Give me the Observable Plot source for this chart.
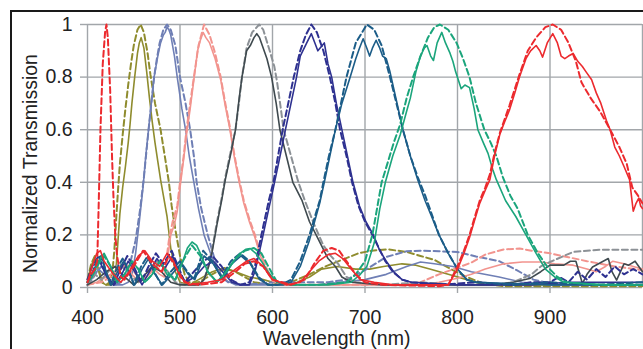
<!DOCTYPE html>
<html><head><meta charset="utf-8">
<script src="https://cdn.jsdelivr.net/npm/d3@7"></script>
<script src="https://cdn.jsdelivr.net/npm/@observablehq/plot@0.6"></script>
<style>
html,body{margin:0;padding:0;background:#fff;overflow:hidden}
#wrap{position:relative;width:643px;height:349px}
#frame{position:absolute;left:10px;top:10px;width:640px;height:345px;border-top:2px solid #1a1a1a;border-left:2px solid #1a1a1a;pointer-events:none;z-index:2}
</style></head><body><div id="wrap"></div>
<script>
// ---- tick values ----
const xTicks = [400, 500, 600, 700, 800, 900];
const xGrid = [400, 500, 600, 700, 800, 900, 1000];
const yTicks = [0, 0.2, 0.4, 0.6, 0.8, 1];

// ---- series values: [wavelength nm, normalized transmission] ----
const oliveSim = [[400,0.03],[404,0.09],[408,0.12],[412,0.07],[416,0.02],[420,0.01],[424,0.02],[427,0.06],[429,0.14],[431,0.26],[433,0.37],[435,0.47],[438,0.58],[441,0.68],[444,0.77],[447,0.85],[450,0.92],[454,0.98],[457.5,1.0],[461,0.97],[465,0.89],[468,0.81],[473,0.7],[479,0.6],[484,0.49],[488,0.4],[491,0.31],[495,0.22],[500,0.12],[505,0.05],[510,0.02],[520,0.02],[530,0.04],[540,0.06],[550,0.07],[560,0.06],[570,0.04],[580,0.02],[600,0.01],[620,0.02],[640,0.05],[657,0.08],[675,0.105],[693,0.13],[707,0.14],[725,0.145],[745,0.135],[760,0.12],[775,0.105],[795,0.066],[810,0.04],[828,0.015],[850,0.005],[900,0.005],[1000,0.005]];
const oliveMeas = [[400,0.02],[403,0.07],[407,0.11],[411,0.08],[415,0.02],[420,0.01],[426,0.01],[429,0.03],[431,0.08],[433,0.18],[435,0.28],[438,0.38],[441,0.46],[444,0.55],[446,0.62],[448,0.7],[451,0.8],[454,0.89],[456,0.93],[458,0.95],[461,0.91],[464,0.82],[467,0.72],[470,0.63],[473,0.55],[476,0.48],[479,0.41],[482,0.35],[486,0.27],[490,0.15],[495,0.06],[500,0.02],[510,0.01],[520,0.03],[535,0.06],[548,0.075],[560,0.06],[575,0.04],[590,0.03],[605,0.015],[620,0.01],[640,0.04],[653,0.07],[670,0.08],[690,0.07],[705,0.07],[720,0.08],[740,0.09],[755,0.085],[770,0.07],[790,0.05],[810,0.03],[830,0.01],[860,0.01],[1000,0.01]];
const slateSim = [[400,0.01],[405,0.03],[410,0.06],[415,0.08],[420,0.06],[425,0.02],[430,0.01],[436,0.02],[441,0.04],[446,0.09],[452,0.18],[457,0.3],[461,0.42],[466,0.6],[469,0.7],[472,0.8],[475,0.87],[478,0.93],[482,0.98],[486,1.0],[490,0.98],[495,0.92],[500,0.8],[506,0.7],[511,0.6],[515,0.5],[518,0.4],[523,0.3],[530,0.2],[538,0.1],[545,0.04],[552,0.02],[570,0.01],[600,0.02],[630,0.02],[660,0.02],[680,0.03],[700,0.066],[723,0.116],[745,0.138],[760,0.14],[780,0.138],[800,0.135],[820,0.118],[845,0.1],[864,0.066],[882,0.03],[900,0.015],[950,0.01],[1000,0.01]];
const slateMeas = [[400,0.01],[406,0.04],[412,0.07],[418,0.05],[424,0.02],[430,0.01],[438,0.01],[444,0.02],[448,0.05],[452,0.13],[456,0.25],[460,0.38],[463,0.5],[466,0.6],[469,0.7],[472,0.8],[476,0.88],[479,0.93],[482,0.96],[484,0.97],[486,0.99],[488,0.98],[490,0.96],[494,0.88],[497,0.8],[502,0.68],[506,0.6],[510,0.5],[515,0.4],[520,0.3],[526,0.2],[533,0.13],[540,0.07],[548,0.03],[560,0.01],[600,0.01],[650,0.01],[700,0.03],[723,0.05],[745,0.08],[760,0.097],[775,0.09],[795,0.08],[815,0.06],[845,0.04],[870,0.02],[900,0.01],[1000,0.01]];
const pinkSim = [[400,0.01],[415,0.02],[425,0.04],[435,0.07],[442,0.09],[450,0.06],[458,0.03],[466,0.05],[474,0.08],[480,0.06],[484,0.07],[488,0.18],[492,0.25],[497,0.31],[500,0.4],[504,0.5],[507,0.6],[511,0.7],[515,0.8],[520,0.92],[526,1.0],[532,0.96],[538,0.89],[544,0.8],[549,0.7],[554,0.61],[559,0.5],[564,0.41],[569,0.33],[575,0.26],[581,0.2],[587,0.13],[594,0.07],[600,0.03],[610,0.01],[650,0.01],[700,0.01],[740,0.01],[760,0.02],[780,0.05],[800,0.075],[815,0.095],[830,0.125],[850,0.145],[867,0.148],[880,0.14],[900,0.13],[920,0.115],[940,0.1],[970,0.08],[1000,0.066]];
const pinkMeas = [[400,0.01],[410,0.02],[420,0.04],[430,0.06],[440,0.08],[448,0.05],[456,0.02],[464,0.04],[472,0.07],[478,0.05],[483,0.04],[487,0.12],[490,0.2],[494,0.24],[497,0.29],[500,0.38],[504,0.49],[507,0.58],[511,0.68],[515,0.79],[519,0.9],[522,0.94],[525,0.97],[528,0.95],[532,0.93],[538,0.87],[544,0.79],[549,0.69],[554,0.6],[559,0.49],[564,0.4],[569,0.32],[575,0.25],[581,0.19],[587,0.12],[594,0.06],[600,0.025],[610,0.01],[700,0.01],[760,0.01],[780,0.02],[800,0.035],[815,0.05],[830,0.07],[850,0.09],[870,0.097],[890,0.097],[905,0.09],[925,0.085],[940,0.07],[950,0.06],[960,0.08],[968,0.1],[980,0.09],[990,0.08],[1000,0.07]];
const graySim = [[400,0.01],[408,0.05],[415,0.03],[425,0.07],[435,0.09],[445,0.05],[455,0.02],[465,0.06],[475,0.1],[485,0.07],[495,0.02],[505,0.01],[515,0.01],[522,0.01],[527,0.04],[531,0.09],[535,0.15],[540,0.25],[545,0.34],[549,0.42],[555,0.52],[560,0.6],[564,0.71],[567,0.8],[572,0.91],[578,0.97],[585.6,1.0],[590,0.98],[597,0.9],[602,0.84],[605,0.78],[609,0.68],[612,0.6],[620,0.5],[628,0.4],[635,0.33],[645,0.24],[655,0.16],[663,0.12],[671,0.09],[680,0.04],[690,0.02],[720,0.01],[760,0.02],[800,0.01],[840,0.01],[860,0.02],[880,0.05],[890,0.08],[900,0.097],[915,0.12],[925,0.135],[940,0.14],[955,0.144],[1000,0.144]];
const grayMeas = [[400,0.01],[410,0.03],[420,0.06],[430,0.08],[440,0.04],[450,0.01],[460,0.04],[470,0.08],[480,0.06],[490,0.02],[500,0.01],[520,0.01],[526,0.03],[531,0.08],[535,0.14],[540,0.24],[545,0.33],[549,0.41],[555,0.51],[560,0.6],[564,0.72],[567,0.8],[572,0.9],[576,0.92],[580,0.95],[583,0.965],[586,0.95],[588,0.93],[594,0.87],[599,0.8],[604,0.7],[608,0.6],[615,0.5],[622,0.4],[632,0.33],[640,0.25],[650,0.18],[660,0.11],[668,0.08],[675,0.04],[685,0.02],[720,0.01],[800,0.01],[840,0.01],[860,0.02],[878,0.034],[890,0.06],[900,0.085],[915,0.085],[922,0.1],[928,0.1],[935,0.015],[940,0.05],[946,0.078],[955,0.095],[963,0.11],[967,0.06],[972,0.028],[980,0.09],[985,0.085],[992,0.1],[1000,0.06]];
const navySim = [[400,0.03],[405,0.08],[412,0.12],[420,0.05],[428,0.01],[436,0.07],[443,0.12],[450,0.08],[458,0.02],[466,0.08],[474,0.13],[482,0.09],[491,0.14],[498,0.08],[505,0.02],[515,0.06],[525,0.1],[535,0.12],[545,0.08],[555,0.03],[565,0.01],[575,0.02],[581,0.08],[588,0.2],[596,0.33],[601,0.4],[606,0.5],[611,0.6],[617,0.7],[623,0.8],[630,0.9],[636,0.96],[642,1.0],[648,0.97],[655,0.9],[662,0.8],[668,0.7],[673,0.6],[680,0.5],[686,0.4],[693,0.31],[700,0.25],[708,0.2],[715,0.15],[722,0.1],[730,0.06],[740,0.03],[750,0.02],[780,0.01],[820,0.02],[860,0.01],[880,0.02],[900,0.02],[910,0.04],[920,0.02],[930,0.06],[940,0.03],[950,0.07],[960,0.04],[970,0.08],[980,0.05],[990,0.07],[1000,0.05]];
const navyMeas = [[400,0.02],[406,0.06],[413,0.1],[421,0.04],[429,0.01],[437,0.05],[444,0.1],[451,0.06],[459,0.01],[467,0.06],[475,0.11],[483,0.07],[492,0.12],[499,0.06],[506,0.02],[516,0.04],[526,0.08],[536,0.1],[546,0.06],[556,0.02],[566,0.01],[575,0.01],[581,0.06],[588,0.17],[596,0.3],[601,0.38],[607,0.48],[614,0.6],[620,0.7],[626,0.8],[630,0.88],[637,0.93],[642,0.965],[649,0.9],[656,0.93],[660,0.85],[664,0.8],[669,0.7],[675,0.6],[681,0.5],[687,0.4],[694,0.31],[701,0.25],[709,0.2],[716,0.14],[723,0.1],[731,0.06],[740,0.03],[750,0.02],[800,0.01],[880,0.01],[920,0.02],[960,0.02],[1000,0.02]];
const tealSim = [[400,0.02],[405,0.05],[410,0.11],[415,0.12],[420,0.06],[425,0.01],[430,0.06],[438,0.11],[445,0.06],[450,0.01],[458,0.08],[465,0.12],[472,0.06],[480,0.01],[490,0.06],[500,0.1],[508,0.06],[515,0.03],[525,0.14],[535,0.1],[545,0.04],[555,0.1],[565,0.13],[575,0.1],[585,0.04],[595,0.01],[605,0.01],[615,0.02],[620,0.03],[630,0.1],[640,0.2],[651,0.33],[655,0.4],[661,0.5],[668,0.6],[674,0.7],[680,0.8],[690,0.93],[702,1.0],[710,0.98],[718,0.92],[727,0.8],[734,0.7],[741,0.6],[749,0.5],[757,0.42],[765,0.35],[772,0.28],[780,0.2],[790,0.13],[800,0.07],[810,0.03],[820,0.02],[860,0.01],[900,0.02],[950,0.01],[1000,0.02]];
const tealMeas = [[400,0.02],[406,0.06],[411,0.1],[416,0.11],[421,0.05],[426,0.01],[431,0.05],[439,0.1],[446,0.05],[451,0.01],[459,0.07],[466,0.11],[473,0.05],[481,0.01],[491,0.05],[501,0.09],[509,0.05],[516,0.03],[526,0.12],[536,0.09],[546,0.03],[556,0.09],[566,0.12],[576,0.09],[586,0.03],[596,0.01],[612,0.01],[620,0.02],[630,0.08],[640,0.18],[651,0.32],[656,0.4],[662,0.5],[668,0.6],[675,0.7],[684,0.8],[690,0.87],[694,0.91],[698,0.946],[702,0.91],[705,0.88],[708,0.91],[712,0.94],[716,0.91],[719,0.88],[723,0.87],[727,0.82],[734,0.71],[741,0.6],[749,0.5],[757,0.41],[765,0.33],[772,0.27],[780,0.2],[790,0.13],[800,0.07],[810,0.03],[820,0.02],[900,0.01],[1000,0.01]];
const greenSim = [[400,0.02],[406,0.05],[412,0.09],[418,0.12],[425,0.08],[432,0.02],[440,0.05],[448,0.1],[455,0.07],[462,0.02],[470,0.05],[478,0.1],[486,0.06],[495,0.03],[503,0.1],[513,0.16],[522,0.12],[530,0.06],[540,0.02],[550,0.06],[560,0.11],[570,0.14],[580,0.15],[588,0.13],[597,0.07],[605,0.02],[620,0.01],[650,0.01],[680,0.02],[690,0.05],[700,0.1],[708,0.2],[713,0.3],[718,0.4],[725,0.48],[731,0.55],[738,0.62],[745,0.72],[752,0.8],[760,0.88],[768,0.95],[775,0.99],[781,1.0],[790,0.98],[799,0.93],[806,0.87],[813,0.8],[820,0.7],[829,0.6],[836,0.55],[842,0.5],[849,0.42],[857,0.35],[865,0.3],[876,0.2],[887,0.13],[897,0.08],[908,0.04],[918,0.02],[950,0.01],[1000,0.01]];
const greenMeas = [[400,0.02],[405,0.04],[412,0.1],[418,0.13],[425,0.08],[432,0.02],[440,0.05],[448,0.1],[455,0.07],[462,0.02],[470,0.05],[478,0.1],[486,0.05],[495,0.03],[503,0.1],[508,0.15],[513,0.173],[518,0.16],[522,0.13],[530,0.06],[540,0.02],[550,0.06],[558,0.1],[565,0.13],[571,0.145],[576,0.148],[582,0.13],[588,0.1],[595,0.06],[605,0.02],[620,0.01],[660,0.01],[685,0.02],[695,0.05],[702,0.08],[710,0.17],[716,0.3],[722,0.4],[730,0.5],[738,0.58],[745,0.67],[749,0.72],[755,0.82],[760,0.88],[764,0.91],[767,0.92],[771,0.88],[774,0.863],[778,0.93],[783,0.97],[787,0.93],[792,0.89],[795,0.86],[798,0.82],[804,0.756],[808,0.77],[813,0.76],[818,0.68],[822,0.6],[828,0.55],[833,0.51],[838,0.45],[842,0.41],[852,0.33],[863,0.27],[874,0.2],[885,0.13],[895,0.07],[905,0.04],[915,0.02],[960,0.01],[1000,0.01]];
const redSim = [[400,0.02],[404,0.05],[408,0.07],[410.5,0.1],[412,0.3],[414,0.6],[416.5,0.85],[419,0.97],[420.5,1.0],[422,0.95],[424.5,0.75],[426.5,0.5],[428,0.35],[430,0.2],[432,0.12],[436,0.04],[440,0.03],[450,0.08],[460,0.14],[470,0.09],[480,0.06],[488,0.12],[495,0.08],[505,0.02],[520,0.01],[545,0.02],[560,0.06],[570,0.09],[580,0.1],[590,0.08],[600,0.03],[620,0.01],[635,0.03],[645,0.09],[655,0.14],[664,0.15],[672,0.14],[680,0.1],[690,0.05],[700,0.02],[720,0.01],[780,0.005],[790,0.01],[800,0.08],[807,0.14],[813,0.2],[818,0.26],[824,0.33],[830,0.38],[835,0.43],[840,0.51],[846,0.59],[856,0.69],[867,0.81],[876,0.9],[885,0.95],[895,0.99],[903,1.0],[912,0.98],[920,0.93],[928,0.86],[934,0.78],[944,0.72],[954,0.67],[965,0.6],[975,0.534],[983,0.47],[989,0.38],[995,0.35],[1000,0.32]];
const redMeas = [[400,0.02],[405,0.08],[410,0.13],[414,0.14],[418,0.1],[422,0.08],[428,0.05],[436,0.02],[445,0.06],[455,0.12],[462,0.14],[470,0.1],[478,0.08],[486,0.13],[493,0.1],[500,0.04],[510,0.01],[530,0.02],[545,0.03],[560,0.07],[572,0.1],[580,0.11],[590,0.08],[600,0.03],[615,0.01],[630,0.02],[640,0.06],[650,0.1],[660,0.125],[668,0.13],[676,0.11],[685,0.07],[695,0.03],[710,0.02],[730,0.01],[790,0.01],[800,0.07],[807,0.13],[813,0.19],[818,0.25],[824,0.32],[830,0.37],[835,0.41],[840,0.5],[846,0.585],[851,0.63],[856,0.673],[862,0.74],[867,0.8],[874,0.87],[879,0.9],[885,0.92],[889,0.9],[892,0.876],[897,0.93],[903,0.965],[908,0.93],[912,0.88],[916,0.87],[920,0.88],[925,0.89],[930,0.86],[935,0.84],[939,0.82],[945,0.79],[950,0.74],[955,0.7],[961,0.635],[965,0.6],[970,0.534],[975,0.5],[980,0.46],[986,0.41],[990,0.29],[993,0.32],[996,0.34],[998,0.31],[1000,0.3]];

// ---- series list (draw order), colors, dashed = simulated ----
const seriesData = [oliveSim, oliveMeas, slateSim, slateMeas, pinkSim, pinkMeas, graySim, grayMeas, navySim, navyMeas, tealSim, tealMeas, greenSim, greenMeas, redSim, redMeas];
const seriesColors = ["#8f8c2e","#8f8c2e","#6f7fb5","#6f7fb5","#f2948e","#f2948e","#8c9196","#3f4a4f","#2e3190","#2e3190","#1c5d88","#1c5d88","#1ba57c","#1ba57c","#ec2a2e","#ec2a2e"];
const seriesDashed = [true,false,true,false,true,false,true,false,true,false,true,false,true,false,true,false];

const gridColor = "#a2a6aa";
const lineMarks = seriesData.map((d, i) => Plot.line(d, {
  x: p => p[0], y: p => p[1],
  stroke: seriesColors[i],
  strokeWidth: seriesDashed[i] ? 2 : 1.6,
  strokeDasharray: seriesDashed[i] ? "6,3.5" : null,
  curve: "linear"
}));

const chart = Plot.plot({
  width: 643, height: 349,
  marginLeft: 87, marginRight: 1, marginTop: 24, marginBottom: 62,
  style: {fontFamily: "'Liberation Sans', Arial, sans-serif", fontSize: "19.5px", color: "#222", background: "transparent"},
  x: {domain: [400, 1000]},
  y: {domain: [0, 1]},
  marks: [
    Plot.gridX(xGrid, {stroke: gridColor, strokeOpacity: 1, strokeWidth: 1.4}),
    Plot.gridY(yTicks, {stroke: gridColor, strokeOpacity: 1, strokeWidth: 1.4}),
    Plot.axisX({ticks: xTicks, tickSize: 6, tickPadding: 16.5, label: null, stroke: gridColor, strokeWidth: 1.4, fill: "#222"}),
    Plot.axisY({ticks: yTicks, tickSize: 7, tickPadding: 8, label: null, stroke: gridColor, strokeWidth: 1.4, fill: "#222", tickFormat: d => String(+d.toFixed(1))}),
    ...lineMarks,
    Plot.text(["Wavelength (nm)"], {text: d => d, frameAnchor: "bottom", textAnchor: "middle", lineAnchor: "middle", dx: -28.5, dy: 50.8, fill: "#222", fontSize: 19.5}),
    Plot.text(["Normalized Transmission"], {text: d => d, frameAnchor: "left", textAnchor: "middle", lineAnchor: "middle", rotate: -90, dx: -56.7, dy: 7.5, fill: "#222", fontSize: 19.5})
  ]
});
const wrap = document.getElementById("wrap");
wrap.appendChild(chart);
const fr = document.createElement("div"); fr.id = "frame"; wrap.appendChild(fr);
</script></body></html>
